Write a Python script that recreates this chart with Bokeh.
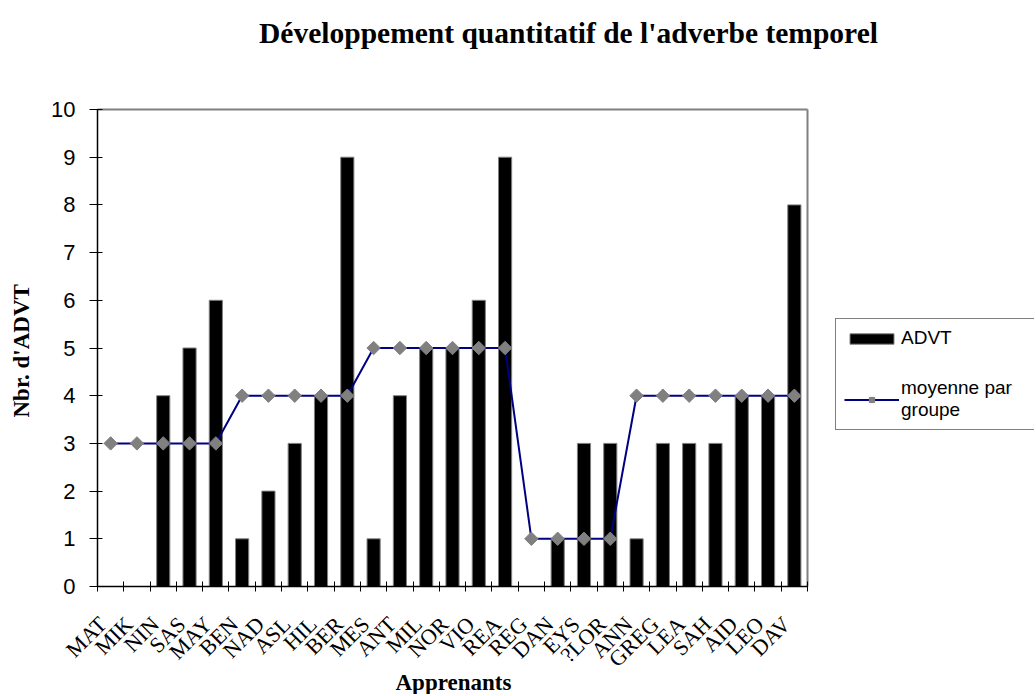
import math
from bokeh.plotting import figure
from bokeh.models import (ColumnDataSource, FixedTicker, Range1d, Legend,
                          LegendItem, Label)
from bokeh.embed import file_html
from bokeh.resources import INLINE

# ---- data ----
categories = ["MAT", "MIK", "NIN", "SAS", "MAY", "BEN", "NAD", "ASL", "HIL",
              "BER", "MES", "ANT", "MIL", "NOR", "VIO", "REA", "REG", "DAN",
              "EYS", "?LOR", "ANN", "GREG", "LEA", "SAH", "AID", "LEO", "DAV"]
advt = [0, 0, 4, 5, 6, 1, 2, 3, 4, 9, 1, 4, 5, 5, 6, 9, 0, 1, 3, 3, 1, 3, 3,
        3, 4, 4, 8]
moyenne = [3, 3, 3, 3, 3, 4, 4, 4, 4, 4, 5, 5, 5, 5, 5, 5, 1, 1, 1, 1, 4, 4,
           4, 4, 4, 4, 4]
y_ticks = [0, 1, 2, 3, 4, 5, 6, 7, 8, 9, 10]

title_text = "Développement quantitatif de l'adverbe temporel"
x_title = "Apprenants"
y_title = "Nbr. d'ADVT"
series_bar = "ADVT"
series_line = "moyenne par\ngroupe"

n = len(categories)
y_max = y_ticks[-1]
x_centers = [i + 0.5 for i in range(n)]
x_bounds = [float(i) for i in range(n + 1)]

src = ColumnDataSource(dict(x=x_centers, advt=advt, moy=moyenne))

# ---- layout (pixels); the frame covers the whole canvas ----
W, H = 1034, 694
PL, PR, PT, PB = 97, 807, 109, 586          # plot area edges
px_x = (PR - PL) / n
px_y = (PB - PT) / y_max
x_rng = Range1d(-PL / px_x, n + (W - PR) / px_x)
y_rng = Range1d(-(H - PB) / px_y, y_max + PT / px_y)
label_shift = 8 / px_x                       # rotated labels sit left of centre

p = figure(width=W, height=H, output_backend="svg", toolbar_location=None,
           x_range=x_rng, y_range=y_rng,
           min_border_left=0, min_border_right=0,
           min_border_top=0, min_border_bottom=0)
p.background_fill_color = "white"
p.border_fill_color = "white"
p.outline_line_color = None
p.xgrid.visible = False
p.ygrid.visible = False

# plot-area border (top and right, gray)
p.segment(x0=[0, n], y0=[y_max, 0], x1=[n, n], y1=[y_max, y_max],
          line_color="#808080", line_width=2)

bars = p.vbar(x="x", top="advt", bottom=0, width=0.5, source=src,
              fill_color="black", line_color="#808080", line_width=1)
line = p.line(x="x", y="moy", source=src, line_color="#000080", line_width=2)
marks = p.scatter(x="x", y="moy", source=src, marker="square", angle=math.pi / 4,
                  size=9.5, fill_color="#808080", line_color="#808080")

# x axis (drawn at y = 0)
label_pos = [c - label_shift for c in x_centers]
xa = p.xaxis[0]
xa.fixed_location = 0
xa.bounds = (0, n)
xa.ticker = FixedTicker(ticks=label_pos, minor_ticks=x_bounds)
xa.major_label_overrides = {lp: c for lp, c in zip(label_pos, categories)}
xa.major_tick_line_color = None
xa.minor_tick_line_color = "black"
xa.minor_tick_in = 5
xa.minor_tick_out = 5
xa.axis_line_color = "black"
xa.axis_line_width = 1.5
xa.major_label_orientation = math.pi / 4
xa.major_label_text_font = "Liberation Serif"
xa.major_label_text_font_size = "22px"
xa.major_label_text_color = "black"
xa.major_label_standoff = 28

# y axis (drawn at x = 0)
ya = p.yaxis[0]
ya.fixed_location = 0
ya.bounds = (0, y_max)
ya.ticker = FixedTicker(ticks=y_ticks)
ya.minor_tick_line_color = None
ya.major_tick_line_color = "black"
ya.major_tick_in = 5
ya.major_tick_out = 8
ya.axis_line_color = "black"
ya.axis_line_width = 1.5
ya.major_label_text_font = "Liberation Sans"
ya.major_label_text_font_size = "22px"
ya.major_label_text_color = "black"
ya.major_label_standoff = 14

# titles
p.add_layout(Label(x=568, y=H - 32, x_units="screen", y_units="screen",
                   text=title_text, text_align="center", text_baseline="middle",
                   text_font="Liberation Serif", text_font_style="bold",
                   text_font_size="29.5px", text_color="black"))
p.add_layout(Label(x=395, y=H - 682, x_units="screen", y_units="screen",
                   text=x_title, text_align="left", text_baseline="alphabetic",
                   text_font="Liberation Serif", text_font_style="bold",
                   text_font_size="23px", text_color="black"))
p.add_layout(Label(x=21, y=H - 417, x_units="screen", y_units="screen",
                   angle=math.pi / 2,
                   text=y_title, text_align="left", text_baseline="alphabetic",
                   text_font="Liberation Serif", text_font_style="bold",
                   text_font_size="23px", text_color="black"))

legend = Legend(items=[LegendItem(label=series_bar, renderers=[bars]),
                       LegendItem(label=series_line, renderers=[line, marks])],
                location=(835, H - 430), orientation="vertical",
                border_line_color="black", border_line_width=1,
                background_fill_color="white", background_fill_alpha=1,
                label_text_font="Liberation Sans", label_text_font_size="19px",
                label_text_color="black", glyph_width=55, glyph_height=13,
                label_width=175, label_standoff=2, spacing=28, padding=8,
                margin=0)
p.add_layout(legend, "center")

open("out.html", "w").write(file_html(p, INLINE))
